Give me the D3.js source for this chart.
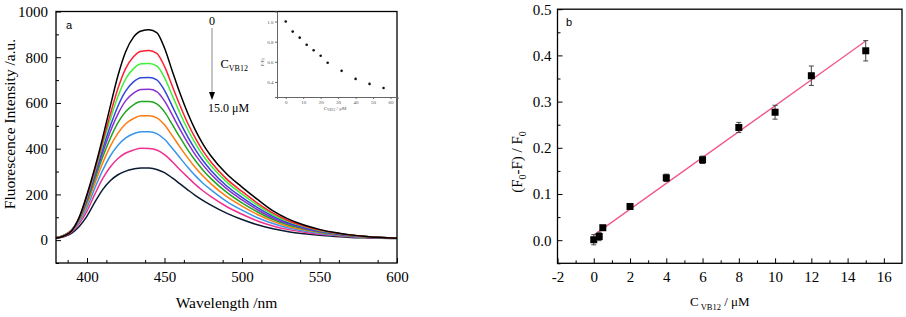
<!DOCTYPE html>
<html>
<head>
<meta charset="utf-8">
<script src="https://cdn.jsdelivr.net/npm/d3@7/dist/d3.min.js"></script>
<style>
  body { margin: 0; background: #fff; }
  svg { display: block; font-family: "Liberation Serif", "Times New Roman", serif; }
  svg .tick text { font-family: "Liberation Serif", "Times New Roman", serif; }
</style>
</head>
<body>
<svg id="chart" width="906" height="317"></svg>
<script>
// ---- panel a: emission spectra ----
var wavelengths = [380,385,390,395,400,405,410,415,420,425,430,435,440,445,450,455,460,465,470,475,480,490,500,510,520,530,540,550,560,570,580,590,600];

var spec0 = [8,18,40,100,200,315,445,585,720,825,888,915,920,908,840,740,642,555,480,418,368,290,232,178,128,92,66,47,33,23,16,11,8];
var spec1 = [9,20,42,100,194,306,428,550,664,751,802,826,829,817,760,674,589,511,445,388,342,268,213,162,118,85,62,44,32,22,16,12,9];
var spec2 = [10,21,43,99,189,298,414,527,629,705,750,771,773,762,711,633,555,484,422,369,325,255,201,153,111,81,59,42,31,22,16,12,9];
var spec3 = [10,21,43,97,182,287,396,498,587,653,692,710,711,701,655,586,516,452,395,346,305,238,187,142,104,75,55,40,29,21,16,12,10];
var spec4 = [11,21,43,95,176,277,380,474,552,610,643,659,660,650,609,548,484,425,372,327,288,225,176,133,97,71,52,38,28,20,16,12,10];
var spec5 = [11,21,42,92,168,264,361,445,514,563,592,606,606,596,561,506,449,395,347,305,269,210,163,123,90,66,49,36,27,19,15,11,10];
var spec6 = [10,20,41,87,157,247,335,410,468,509,532,544,544,535,505,457,407,360,317,279,246,191,149,112,82,60,45,33,25,18,14,11,9];
var spec7 = [10,19,39,80,143,226,304,368,415,447,465,474,474,466,441,402,360,319,281,248,220,170,131,98,73,53,40,29,22,16,13,10,9];
var spec8 = [9,17,35,72,127,200,268,320,357,381,394,402,401,394,374,343,308,275,243,215,190,147,113,84,62,46,35,26,20,15,12,9,8];
var spec9 = [8,15,30,60,105,165,220,260,286,302,311,316,315,309,295,272,246,220,195,173,153,118,90,67,50,37,28,21,16,12,10,8,7];

var spectra = [spec0, spec1, spec2, spec3, spec4, spec5, spec6, spec7, spec8, spec9];
var specColors = ['#000000','#ff1f2f','#3ef03a','#3046d8','#8a2fd0','#1fa51f','#ff7a10','#3a95ec','#f0308f','#0b1a33'];

// inset: F/F0 vs C
var insetConc = [0,4,8,12,16,20,24,32,40,48,56];
var insetRatio = [1.0,0.90,0.84,0.77,0.715,0.66,0.59,0.51,0.43,0.38,0.34];

// ---- panel b: calibration ----
var concB = [0,0.3,0.5,2,4,6,8,10,12,15];
var quench = [0.001,0.008,0.027,0.073,0.135,0.174,0.244,0.277,0.356,0.410];
var quenchErr = [0.011,0.009,0.004,0.006,0.008,0.008,0.011,0.015,0.021,0.022];
var fitX = [0, 15];
var fitY = [0.011, 0.431];

var svg = d3.select('#chart');
var serif = '"Liberation Serif", "Times New Roman", serif';

function styleAxis(g) {
  g.attr('font-family', null);
  g.select('.domain').remove();
  g.selectAll('.tick line').attr('stroke', '#000').attr('stroke-width', 1);
  g.selectAll('.tick text').attr('font-size', 15).attr('fill', '#000').style('font-family', serif);
}

// ================= panel a =================
var xA = d3.scaleLinear().domain([380, 600]).range([56, 397]);
var yA = d3.scaleLinear().domain([-100, 1000]).range([263, 11.5]);

var gA = svg.append('g');

gA.append('g')
    .attr('transform', 'translate(0,' + yA(-100) + ')')
    .call(d3.axisBottom(xA).tickValues(d3.range(387.5, 600, 25)).tickSize(-3).tickFormat(''))
    .call(styleAxis);
gA.append('g')
    .attr('transform', 'translate(0,' + yA(-100) + ')')
    .call(d3.axisBottom(xA).tickValues([400,450,500,550,600]).tickSize(-5).tickPadding(8).tickFormat(d3.format('d')))
    .call(styleAxis);
gA.append('g')
    .attr('transform', 'translate(' + xA(380) + ',0)')
    .call(d3.axisLeft(yA).tickValues(d3.range(-100, 1000, 200)).tickSize(-3).tickFormat(''))
    .call(styleAxis);
gA.append('g')
    .attr('transform', 'translate(' + xA(380) + ',0)')
    .call(d3.axisLeft(yA).tickValues(d3.range(0, 1001, 200)).tickSize(-5).tickPadding(8).tickFormat(d3.format('d')))
    .call(styleAxis);

var lineA = d3.line()
    .x(function(d, i) { return xA(wavelengths[i]); })
    .y(function(d) { return yA(d); })
    .curve(d3.curveMonotoneX);

gA.append('g').selectAll('path')
    .data(spectra.slice().reverse())
    .enter().append('path')
      .attr('d', lineA)
      .attr('fill', 'none')
      .attr('stroke-width', 1.5)
      .attr('stroke', function(d, i) { return specColors[spectra.length - 1 - i]; });

gA.append('rect')
    .attr('x', xA(380)).attr('y', yA(1000))
    .attr('width', xA(600) - xA(380)).attr('height', yA(-100) - yA(1000))
    .attr('fill', 'none').attr('stroke', '#000').attr('stroke-width', 1.3);

gA.append('text')
    .attr('x', 66).attr('y', 29)
    .attr('font-family', 'Liberation Sans, Arial, sans-serif')
    .attr('font-size', 11)
    .text('a');

gA.append('text')
    .attr('transform', 'translate(15,124) rotate(-90)')
    .attr('text-anchor', 'middle')
    .attr('font-size', 15.5)
    .text('Fluorescence Intensity /a.u.');

gA.append('text')
    .attr('x', (xA(380) + xA(600)) / 2).attr('y', 308)
    .attr('text-anchor', 'middle')
    .attr('font-size', 15.5)
    .text('Wavelength /nm');

// arrow annotation
gA.append('text').attr('x', 212).attr('y', 25).attr('text-anchor', 'middle').attr('font-size', 12).text('0');
gA.append('line').attr('x1', 212).attr('x2', 212).attr('y1', 28).attr('y2', 93)
    .attr('stroke', '#8a8a8a').attr('stroke-width', 1);
gA.append('path').attr('d', 'M209,92L215,92L212,100Z').attr('fill', '#000');
var cLab = gA.append('text').attr('x', 220.5).attr('y', 68).attr('font-size', 12.5);
cLab.append('tspan').text('C');
cLab.append('tspan').attr('font-size', 8).attr('dy', 3).text('VB12');
gA.append('text').attr('x', 208).attr('y', 112).attr('font-size', 12).text('15.0 \u03bcM');

// inset
var xI = d3.scaleLinear().domain([-5, 64]).range([277, 397.5]);
var yI = d3.scaleLinear().domain([0.25, 1.1]).range([97, 11.5]);
var gI = svg.append('g');

function styleInset(g) {
  g.attr('font-family', null);
  g.select('.domain').attr('stroke', '#666');
  g.selectAll('.tick line').attr('stroke', '#666');
  g.selectAll('.tick text').attr('font-size', 5).attr('fill', '#555').style('font-family', serif);
}

gI.append('g')
    .attr('transform', 'translate(0,' + yI(0.25) + ')')
    .call(d3.axisBottom(xI).tickValues(d3.range(0, 61, 10)).tickSize(2).tickPadding(1.5))
    .call(styleInset);
gI.append('g')
    .attr('transform', 'translate(' + xI(-5) + ',0)')
    .call(d3.axisLeft(yI).tickValues([0.4, 0.6, 0.8, 1.0]).tickSize(2).tickPadding(1.5).tickFormat(d3.format('.1f')))
    .call(styleInset);

gI.append('g').selectAll('circle')
    .data(insetConc)
    .enter().append('circle')
      .attr('cx', function(d) { return xI(d); })
      .attr('cy', function(d, i) { return yI(insetRatio[i]); })
      .attr('r', 1.3)
      .attr('fill', '#111');

var iy = gI.append('text').attr('transform', 'translate(264,62) rotate(-90)')
    .attr('text-anchor', 'middle').attr('font-size', 5).attr('fill', '#555');
iy.append('tspan').text('F/F');
iy.append('tspan').attr('font-size', 3.5).attr('dy', 1).text('0');
var ix = gI.append('text').attr('x', 335).attr('y', 110)
    .attr('text-anchor', 'middle').attr('font-size', 5).attr('fill', '#555');
ix.append('tspan').text('C');
ix.append('tspan').attr('font-size', 3.5).attr('dy', 1).text('VB12');
ix.append('tspan').attr('dy', -1).text(' / \u03bcM');

// ================= panel b =================
var xB = d3.scaleLinear().domain([-2, 17]).range([557.5, 902]);
var yB = d3.scaleLinear().domain([-0.05, 0.5]).range([263.3, 9.2]);
var gB = svg.append('g');

gB.append('g')
    .attr('transform', 'translate(0,' + yB(-0.05) + ')')
    .call(d3.axisBottom(xB).tickValues(d3.range(-1, 17, 2)).tickSize(-3).tickFormat(''))
    .call(styleAxis);
gB.append('g')
    .attr('transform', 'translate(0,' + yB(-0.05) + ')')
    .call(d3.axisBottom(xB).tickValues(d3.range(-2, 17, 2)).tickSize(-5).tickPadding(8).tickFormat(function(d) { return String(d); }))
    .call(styleAxis);
gB.append('g')
    .attr('transform', 'translate(' + xB(-2) + ',0)')
    .call(d3.axisLeft(yB).tickValues([-0.05, 0.05, 0.15, 0.25, 0.35, 0.45]).tickSize(-3).tickFormat(''))
    .call(styleAxis);
gB.append('g')
    .attr('transform', 'translate(' + xB(-2) + ',0)')
    .call(d3.axisLeft(yB).tickValues([0, 0.1, 0.2, 0.3, 0.4, 0.5]).tickSize(-5).tickPadding(6).tickFormat(function(d) { return d.toFixed(1); }))
    .call(styleAxis);

gB.append('line')
    .attr('x1', xB(fitX[0])).attr('y1', yB(fitY[0]))
    .attr('x2', xB(fitX[1])).attr('y2', yB(fitY[1]))
    .attr('stroke', '#f0588e').attr('stroke-width', 1.3);

var pts = gB.append('g').selectAll('g')
    .data(concB)
    .enter().append('g');
pts.append('line')
    .attr('x1', function(d) { return xB(d); }).attr('x2', function(d) { return xB(d); })
    .attr('y1', function(d, i) { return yB(quench[i] - quenchErr[i]); })
    .attr('y2', function(d, i) { return yB(quench[i] + quenchErr[i]); })
    .attr('stroke', '#444').attr('stroke-width', 1);
pts.selectAll('.cap')
    .data(function(d, i) { return [[d, quench[i] - quenchErr[i]], [d, quench[i] + quenchErr[i]]]; })
    .enter().append('line')
      .attr('x1', function(d) { return xB(d[0]) - 2.5; })
      .attr('x2', function(d) { return xB(d[0]) + 2.5; })
      .attr('y1', function(d) { return yB(d[1]); })
      .attr('y2', function(d) { return yB(d[1]); })
      .attr('stroke', '#444').attr('stroke-width', 1);
pts.append('rect')
    .attr('x', function(d) { return xB(d) - 3.5; })
    .attr('y', function(d, i) { return yB(quench[i]) - 3.5; })
    .attr('width', 7).attr('height', 7)
    .attr('fill', '#000');

gB.append('rect')
    .attr('x', xB(-2)).attr('y', yB(0.5))
    .attr('width', xB(17) - xB(-2)).attr('height', yB(-0.05) - yB(0.5))
    .attr('fill', 'none').attr('stroke', '#000').attr('stroke-width', 1.3);

gB.append('text')
    .attr('x', 566).attr('y', 26)
    .attr('font-family', 'Liberation Sans, Arial, sans-serif')
    .attr('font-size', 11)
    .text('b');

var yl = gB.append('text')
    .attr('transform', 'translate(522,162) rotate(-90)')
    .attr('text-anchor', 'middle')
    .attr('font-size', 15);
yl.append('tspan').text('(F');
yl.append('tspan').attr('font-size', 10).attr('dy', 4).text('0');
yl.append('tspan').attr('dy', -4).text('-F) / F');
yl.append('tspan').attr('font-size', 10).attr('dy', 4).text('0');

var xl = gB.append('text')
    .attr('x', 690).attr('y', 306)
    .attr('font-size', 13);
xl.append('tspan').text('C');
xl.append('tspan').attr('font-size', 8.5).attr('dy', 4).text(' VB12');
xl.append('tspan').attr('dy', -4).text(' / \u03bcM');
</script>
</body>
</html>
